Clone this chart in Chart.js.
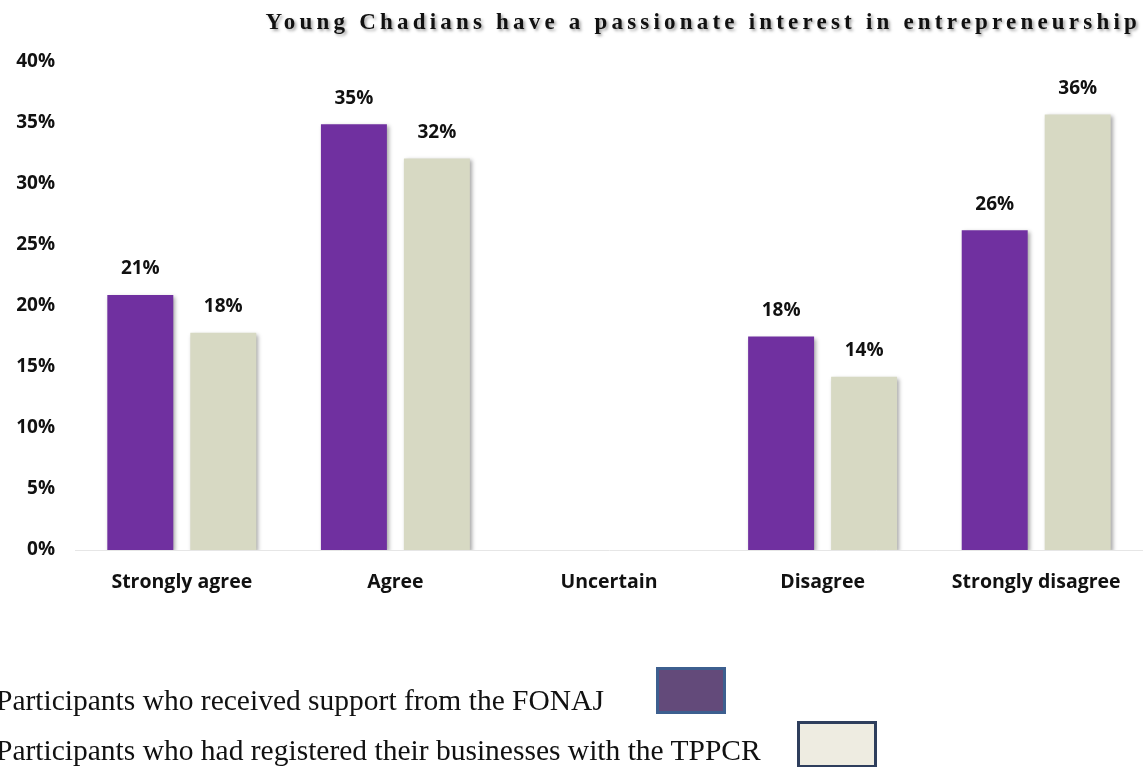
<!DOCTYPE html>
<html>
<head>
<meta charset="utf-8">
<script src="https://cdn.jsdelivr.net/npm/chart.js@4.4.1/dist/chart.umd.min.js"></script>
<style>
  html, body { margin: 0; padding: 0; background: #fff; overflow: hidden; }
  #wrap { position: relative; width: 1143px; height: 767px; }
  #chart { position: absolute; left: 0; top: 0; }
  #title {
    position: absolute; right: 2px; top: 10px;
    font: bold 23px "Liberation Serif", "Times New Roman", serif;
    letter-spacing: 4.2px; color: #111;
    text-shadow: 2px 2px 3px rgba(0,0,0,0.35);
    white-space: nowrap; line-height: 1;
  }
  .leg {
    position: absolute; left: -4px;
    font: 29.5px "Liberation Serif", "Times New Roman", serif;
    color: #111; white-space: nowrap; line-height: 1;
  }
  .swatch { position: absolute; box-sizing: border-box; }
</style>
</head>
<body>
<div id="wrap">
  <canvas id="chart" width="1143" height="767"></canvas>
  <div id="title">Young Chadians have a passionate interest in entrepreneurship</div>
  <div class="leg" style="top:686px;">Participants who received support from the FONAJ</div>
  <div class="swatch" style="left:656px; top:667px; width:70px; height:47px; background:#634a7a; border:3px solid #3d5f8f;"></div>
  <div class="leg" style="top:736px;">Participants who had registered their businesses with the TPPCR</div>
  <div class="swatch" style="left:797px; top:721px; width:80px; height:47px; background:#eeece1; border:3px solid #2e3e5c;"></div>
</div>
<script>
const categories = ['Strongly agree', 'Agree', 'Uncertain', 'Disagree', 'Strongly disagree'];
const fonajValues = [20.9, 34.9, 0, 17.5, 26.2];
const tppcrValues = [17.8, 32.1, 0, 14.2, 35.7];
const yTicks = [0, 5, 10, 15, 20, 25, 30, 35, 40];

const labelFont = '"Open Sans", "Lato", sans-serif';

// soft shadow behind the bars
const barShadow = {
  id: 'barShadow',
  beforeDatasetsDraw(chart) {
    const ctx = chart.ctx;
    ctx.save();
    ctx.shadowColor = 'rgba(0,0,0,0.35)';
    ctx.shadowBlur = 4;
    ctx.shadowOffsetX = 2;
    ctx.shadowOffsetY = 2;
  },
  afterDatasetsDraw(chart) {
    chart.ctx.restore();
  }
};

// percent labels over each bar
const valueLabels = {
  id: 'valueLabels',
  afterDatasetsDraw(chart) {
    const ctx = chart.ctx;
    ctx.save();
    ctx.font = 'bold 19px ' + labelFont;
    ctx.fillStyle = '#111';
    ctx.textAlign = 'center';
    ctx.textBaseline = 'middle';
    chart.data.datasets.forEach((ds, i) => {
      chart.getDatasetMeta(i).data.forEach((bar, j) => {
        const v = ds.data[j];
        if (!v) return;
        ctx.fillText(Math.round(v) + '%', bar.x, bar.y - 26);
      });
    });
    ctx.restore();
  }
};

new Chart(document.getElementById('chart'), {
  type: 'bar',
  data: {
    labels: categories,
    datasets: [{
      label: 'Participants who received support from the FONAJ',
      data: fonajValues,
      backgroundColor: '#7030a0',
      barPercentage: 0.795,
      categoryPercentage: 0.777
    }, {
      label: 'Participants who had registered their businesses with the TPPCR',
      data: tppcrValues,
      backgroundColor: '#d7d9c3',
      barPercentage: 0.795,
      categoryPercentage: 0.777
    }]
  },
  options: {
    responsive: false,
    animation: false,
    layout: { padding: { top: 62, right: 0, bottom: 157, left: 0 } },
    plugins: {
      legend: { display: false },
      title: { display: false },
      tooltip: { enabled: false }
    },
    scales: {
      x: {
        grid: { display: false, drawTicks: false },
        border: { color: '#e6e6e6', width: 1 },
        ticks: { color: '#111', font: { family: labelFont, size: 19.5, weight: 'bold' }, padding: 21 },
        afterFit: s => { s.height = 60; }
      },
      y: {
        min: 0,
        max: 40,
        afterBuildTicks: s => { s.ticks = yTicks.map(v => ({ value: v })); },
        grid: { display: false, drawTicks: false },
        border: { display: false },
        ticks: {
          color: '#111',
          font: { family: labelFont, size: 19, weight: 'bold' },
          padding: 20,
          callback: v => v + '%'
        },
        afterFit: s => { s.width = 75; }
      }
    }
  },
  plugins: [barShadow, valueLabels]
});
</script>
</body>
</html>
